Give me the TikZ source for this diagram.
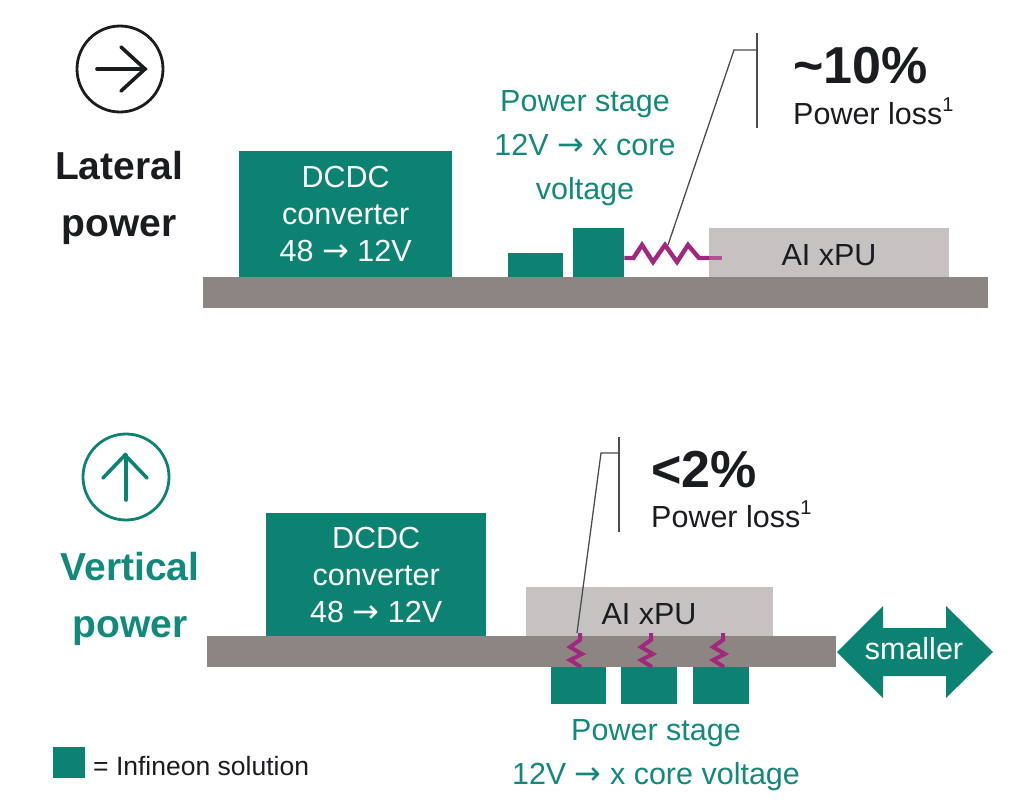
\documentclass[tikz,border=0pt]{standalone}
\usepackage{fontspec}
\setmainfont{Liberation Sans}
\newfontfamily\arrowfont{DejaVu Sans}
\usepackage{xcolor}
\usetikzlibrary{shapes,arrows,positioning,fit,calc}
\definecolor{ifxgreen}{HTML}{0C8372}
\definecolor{ifxtext}{HTML}{12897A}
\definecolor{chipgray}{HTML}{C6C2C2}
\definecolor{boardgray}{HTML}{8C8582}
\definecolor{lossred}{HTML}{A0287F}
\definecolor{inkdark}{HTML}{1A1C20}
\newcommand{\toarrow}{{\arrowfont\fontsize{32}{26}\selectfont →}}
\begin{document}
\begin{tikzpicture}[
    x=1pt, y=-1pt,
    block/.style={rectangle, fill=ifxgreen, text=white, inner sep=0pt, anchor=north west, align=center, font=\fontsize{30.5}{37}\selectfont},
    chip/.style={rectangle, fill=chipgray, inner sep=0pt, anchor=north west},
    chiplabel/.style={text=inkdark, inner sep=0pt, font=\fontsize{30.5}{37}\selectfont},
    board/.style={rectangle, fill=boardgray, inner sep=0pt, anchor=north west},
    heading/.style={align=center, inner sep=0pt, font=\bfseries\fontsize{39}{57}\selectfont},
    stagetext/.style={align=center, inner sep=0pt, text=ifxtext, font=\fontsize{30.5}{44}\selectfont},
    leader/.style={draw=black!70, line width=1.3pt},
    loss/.style={draw=lossred, line width=4.4pt, line join=miter},
    icon/.style={line width=3.6pt, line cap=round},
    bigfigure/.style={anchor=base west, inner sep=0pt, text=inkdark, font=\bfseries\fontsize{52}{52}\selectfont},
    losstext/.style={anchor=base west, inner sep=0pt, text=inkdark, font=\fontsize{30.5}{36}\selectfont}
]
    \useasboundingbox (0,0) rectangle (1034,801);

    % lateral path
    \node[board, minimum width=785pt, minimum height=31pt] (boardA) at (203,277) {};
    \node[block, minimum width=213pt, minimum height=126pt] (dcdcA) at (239,151) {DCDC\\converter\\48 \toarrow{} 12V};
    \node[block, minimum width=55pt, minimum height=24pt] (stageLow) at (508,253) {};
    \node[block, minimum width=51pt, minimum height=49pt] (stageHigh) at (573,228) {};
    \node[chip, minimum width=240pt, minimum height=49pt] (xpuA) at (709,228) {};
    \node[chiplabel] (xpuAlabel) at (829,255) {AI xPU};
    \node[stagetext] (stageA) at (585,148) {Power stage\\12V \toarrow{} x core\\voltage};

    \draw[loss] (stageHigh.east |- 0,258) -- ++(9,0) -- (642,245) -- (653,262) -- (665,245) -- (677,262) -- (688,245) -- (699,258) -- (709,258);
    \draw[loss, opacity=.7, line cap=butt] (709,258) -- (722,258);

    \coordinate (tapA) at (668,245);
    \coordinate (kneeA) at (734,50);
    \coordinate (barAtop) at (757,33);
    \coordinate (barAbot) at (757,128);
    \draw[leader] (barAtop) -- (barAbot);
    \draw[leader] (tapA) -- (kneeA) -- (kneeA -| barAtop);

    \node[bigfigure] (lossA) at (793,83) {{\char`\~}10\%};
    \node[losstext] (lossAtext) at (793,124) {Power loss\raisebox{0.4em}{\fontsize{20}{20}\selectfont 1}};

    \node[circle, draw=inkdark, line width=2.8pt, minimum size=86pt, inner sep=0pt] (iconA) at (120,69) {};
    \draw[icon, draw=inkdark] (97,69) -- (145,69);
    \draw[icon, draw=inkdark] (121,47) -- (145,69) -- (121,91);
    \node[heading, text=inkdark] (titleA) at (119,198) {Lateral\\power};

    % vertical path
    \node[board, minimum width=629pt, minimum height=31pt] (boardB) at (207,636) {};
    \node[block, minimum width=220pt, minimum height=123pt] (dcdcB) at (266,513) {DCDC\\converter\\48 \toarrow{} 12V};
    \node[chip, minimum width=247pt, minimum height=49pt] (xpuB) at (526,587) {};
    \node[chiplabel] (xpuBlabel) at (649,614) {AI xPU};
    \node[block, minimum width=55pt, minimum height=37pt] (stageOne) at (551,667) {};
    \node[block, minimum width=56pt, minimum height=37pt] (stageTwo) at (621,667) {};
    \node[block, minimum width=56pt, minimum height=37pt] (stageThree) at (693,667) {};
    \node[stagetext] (stageB) at (656,755) {Power stage\\12V \toarrow{} x core voltage};

    \foreach \dx in {0,71,143}
        \draw[loss, line width=4pt] (580+\dx,633) -- (580+\dx,640) -- (570+\dx,647) -- (582+\dx,654) -- (570+\dx,660) -- (581+\dx,667);

    \coordinate (tapB) at (577,633);
    \coordinate (kneeB) at (601,453);
    \coordinate (barBtop) at (619,437);
    \coordinate (barBbot) at (619,532);
    \draw[leader] (barBtop) -- (barBbot);
    \draw[leader] (tapB) -- (kneeB) -- (kneeB -| barBtop);

    \node[bigfigure] (lossB) at (651,487) {<2\%};
    \node[losstext] (lossBtext) at (651,527) {Power loss\raisebox{0.4em}{\fontsize{20}{20}\selectfont 1}};

    \node[circle, draw=ifxgreen, line width=2.8pt, minimum size=86pt, inner sep=0pt] (iconB) at (126,477) {};
    \draw[icon, draw=ifxgreen] (126,500) -- (126,455);
    \draw[icon, draw=ifxgreen] (103,478) -- (125,455) -- (147,478);
    \node[heading, text=ifxtext] (titleB) at (130,599) {Vertical\\power};

    \fill[ifxgreen] (837,652) -- (883,606) -- (883,628) -- (946,628) -- (946,606) -- (993,652) -- (946,698) -- (946,676) -- (883,676) -- (883,698) -- cycle;
    \node[text=white, inner sep=0pt, font=\fontsize{30.5}{36}\selectfont] (smaller) at (914,649) {smaller};

    % legend
    \node[block, minimum width=32pt, minimum height=31pt] (legendBox) at (53,747) {};
    \node[anchor=west, inner sep=0pt, text=inkdark, font=\fontsize{26.5}{32}\selectfont] (legendText) at (93,766) {= Infineon solution};
\end{tikzpicture}
\end{document}
